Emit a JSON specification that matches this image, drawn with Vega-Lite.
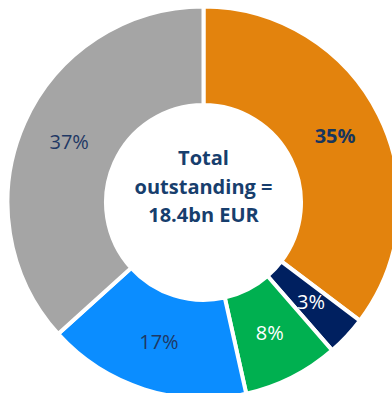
{
  "$schema": "https://vega.github.io/schema/vega-lite/v6.json",
  "width": 392,
  "height": 393,
  "autosize": {"type": "fit", "contains": "padding"},
  "padding": {"left": 15, "top": 12, "right": 0, "bottom": 0},
  "background": "white",
  "view": {"stroke": null},
  "data": {
    "values": [
      {"segment": "A", "order": 1, "share": 35.3, "label": "35%"},
      {"segment": "B", "order": 2, "share": 3.3, "label": "3%"},
      {"segment": "C", "order": 3, "share": 7.9, "label": "8%"},
      {"segment": "D", "order": 4, "share": 16.8, "label": "17%"},
      {"segment": "E", "order": 5, "share": 36.7, "label": "37%"}
    ]
  },
  "encoding": {
    "theta": {"field": "share", "type": "quantitative", "stack": true},
    "order": {"field": "order", "type": "quantitative"}
  },
  "layer": [
    {
      "mark": {"type": "arc", "outerRadius": 196, "innerRadius": 97.5, "stroke": "white", "strokeWidth": 4},
      "encoding": {
        "color": {
          "field": "segment",
          "type": "nominal",
          "legend": null,
          "scale": {"domain": ["A", "B", "C", "D", "E"], "range": ["#E3830D", "#002060", "#00B050", "#0B8DFF", "#A5A5A5"]}
        }
      }
    },
    {
      "mark": {"type": "text", "radius": 147, "font": "Open Sans", "fontSize": 20, "baseline": "middle", "align": "center"},
      "encoding": {
        "text": {"field": "label", "type": "nominal"},
        "color": {"condition": {"test": "datum.segment == 'B' || datum.segment == 'C'", "value": "#FFFFFF"}, "value": "#1F3864"},
        "opacity": {"condition": {"test": "datum.segment != 'A'", "value": 1}, "value": 0}
      }
    },
    {
      "mark": {"type": "text", "radius": 147, "font": "Open Sans", "fontSize": 20, "fontWeight": "bold", "baseline": "middle", "align": "center", "color": "#17365D"},
      "encoding": {
        "text": {"field": "label", "type": "nominal"},
        "opacity": {"condition": {"test": "datum.segment == 'A'", "value": 1}, "value": 0}
      }
    },
    {
      "data": {"values": [{"title": "Total|outstanding =|18.4bn EUR"}]},
      "mark": {"type": "text", "font": "Open Sans", "fontSize": 20, "fontWeight": "bold", "lineBreak": "|", "lineHeight": 28.5, "baseline": "middle", "align": "center", "dy": -43.5, "color": "#173E6D"},
      "encoding": {
        "text": {"field": "title", "type": "nominal"},
        "theta": null,
        "order": null
      }
    }
  ]
}
